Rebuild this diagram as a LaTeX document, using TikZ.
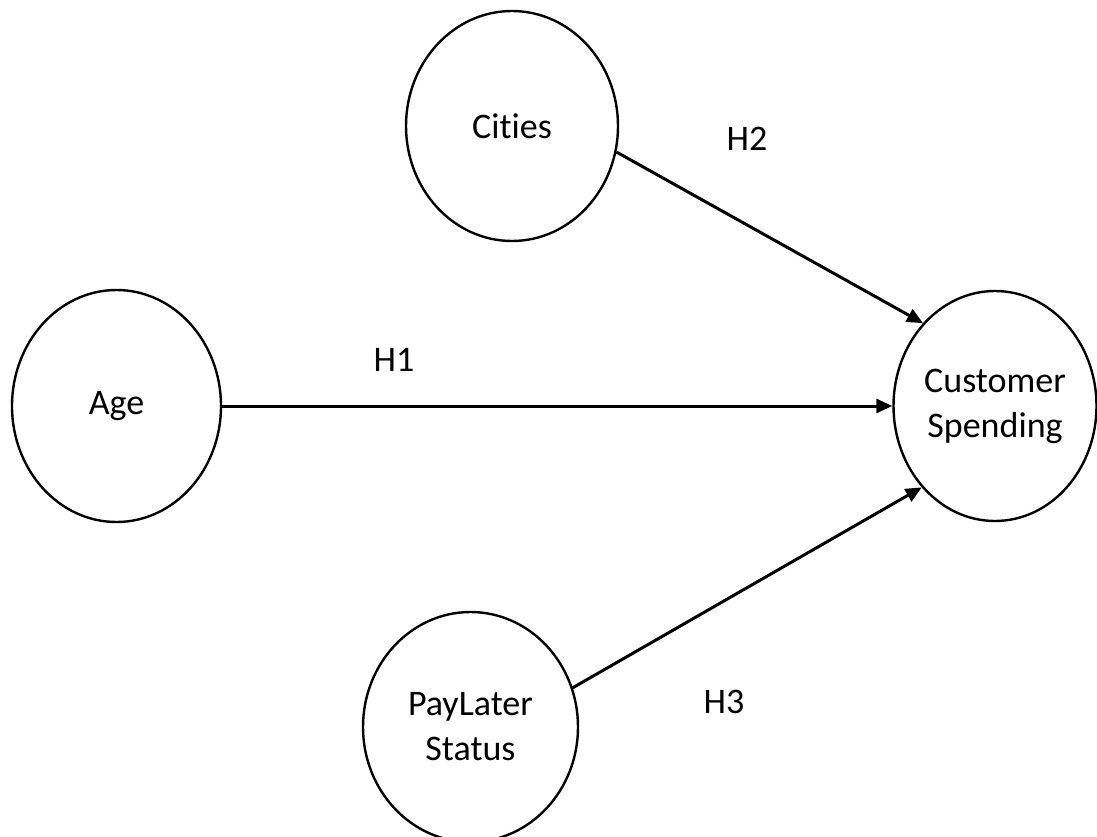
\documentclass[tikz,border=0pt]{standalone}
\usepackage{fontspec}
\setmainfont[Ligatures=NoCommon]{Carlito}
\usetikzlibrary{shapes.geometric,arrows.meta}
\begin{document}
\begin{tikzpicture}[x=1pt,y=-1pt,
  var/.style={draw=black,line width=2.4pt,ellipse,inner sep=0pt,align=center,
    font=\fontsize{36}{45}\selectfont},
  hyp/.style={font=\fontsize{36}{45}\selectfont,inner sep=0pt},
  link/.style={line width=3pt,-{Triangle[length=16pt,width=14pt]}}]
\useasboundingbox (0,0) rectangle (1097,837);
\node[var,minimum width=212pt,minimum height=230pt] (cities) at (512,126) {Cities};
\node[var,minimum width=209pt,minimum height=232pt] (age) at (116.5,406) {Age};
\node[var,minimum width=203pt,minimum height=230pt] (cs) at (995,406) {Customer\\Spending};
\node[var,minimum width=215pt,minimum height=230pt] (pl) at (470.5,727) {PayLater\\Status};
\node[hyp] (h2) at (747,139) {H2};
\node[hyp] (h1) at (394,360) {H1};
\node[hyp] (h3) at (724,702) {H3};
\draw[link] (cities.-14.8) -- (cs.131.7);
\draw[link] (age.east) -- (cs.west);
\draw[link] (pl.21.6) -- (cs.228.3);
\end{tikzpicture}
\end{document}
